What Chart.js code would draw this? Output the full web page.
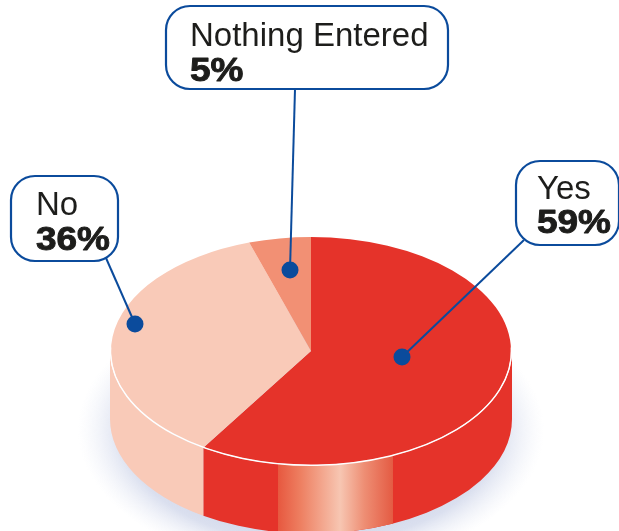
<!DOCTYPE html>
<html>
<head>
<meta charset="utf-8">
<title>Pie</title>
<script src="https://cdn.jsdelivr.net/npm/chart.js@4/dist/chart.umd.js"></script>
<style>
  html, body { margin: 0; padding: 0; background: #fff; }
  canvas { display: block; }
</style>
</head>
<body>
<canvas id="myChart" width="619" height="531"></canvas>
<script>
const categories = ['Yes', 'No', 'Nothing Entered'];
const percents = [59, 36, 5];
const sliceColors = ['#e5332a', '#f9cab8', '#f29074'];

// callout boxes and their leader lines, same order as categories
const callouts = [
    { box: [516, 161, 103, 84], text: [537, 199, 233], from: [524, 240], dot: [402, 357] },
    { box: [11, 176, 107, 85], text: [36, 215, 250], from: [106, 258], dot: [135, 324] },
    { box: [166, 6, 282, 83], text: [190, 46, 81], from: [295, 89], dot: [290, 270] },
];

const centerY = 351;
const squash = 0.57;
const depth = 68;
const blue = '#0b4b9c';

const ctx = document.getElementById('myChart');

// soft blue glow under the disc
const drawShadow = (c, x, r) => {
    c.save();
    c.translate(x, 430);
    c.scale(1, 0.6);
    const g = c.createRadialGradient(0, 0, r * 0.72, 0, 0, r * 1.16);
    g.addColorStop(0, 'rgba(203,210,231,1)');
    g.addColorStop(0.5, 'rgba(212,218,236,0.85)');
    g.addColorStop(1, 'rgba(235,238,247,0)');
    c.fillStyle = g;
    c.beginPath();
    c.arc(0, 0, r * 1.16, 0, Math.PI * 2);
    c.fill();
    c.restore();
};

const wallPath = (c, x, r, a0, a1) => {
    c.beginPath();
    c.ellipse(x, centerY, r, r * squash, 0, a0, a1);
    c.ellipse(x, centerY + depth, r, r * squash, 0, a1, a0, true);
    c.closePath();
};

// heavy percent figure, the bold face is widened and thickened a little
const drawBold = (c, label, x, y) => {
    c.save();
    c.translate(x, y);
    c.scale(1.12, 1);
    c.font = 'bold 33px "Liberation Sans"';
    c.strokeStyle = c.fillStyle;
    c.lineWidth = 0.9;
    c.lineJoin = 'round';
    c.strokeText(label, 0, 0);
    c.fillText(label, 0, 0);
    c.restore();
};

const pie3d = {
    id: 'pie3d',
    beforeDatasetsDraw(chart) {
        const c = chart.ctx;
        const arcs = chart.getDatasetMeta(0).data;
        const x = arcs[0].x;
        const r = arcs[0].outerRadius + 1;

        drawShadow(c, x, r);

        // side wall, only the front half of each slice shows
        arcs.forEach((arc, i) => {
            const a0 = Math.max(arc.startAngle, 0);
            const a1 = Math.min(arc.endAngle, Math.PI);
            if (a1 <= a0) return;
            wallPath(c, x, r, a0, a1);
            c.fillStyle = sliceColors[i];
            c.fill();
        });

        // shine on the red wall
        const first = arcs[0];
        c.save();
        wallPath(c, x, r, 0, Math.min(first.endAngle, Math.PI));
        c.clip();
        const sheen = c.createLinearGradient(278, 0, 393, 0);
        sheen.addColorStop(0, '#e7583f');
        sheen.addColorStop(0.2, '#ee8062');
        sheen.addColorStop(0.54, '#f7c6b2');
        sheen.addColorStop(0.75, '#ee8e74');
        sheen.addColorStop(1, '#e45b43');
        c.fillStyle = sheen;
        c.fillRect(278, centerY, 115, depth + 120);
        c.restore();

        // flatten the disc into an ellipse
        c.save();
        c.translate(x, centerY);
        c.scale(1, squash);
        c.translate(-x, -arcs[0].y);
    },
    afterDatasetsDraw(chart) {
        const c = chart.ctx;
        c.restore();
        const arcs = chart.getDatasetMeta(0).data;
        const x = arcs[0].x;
        const r = arcs[0].outerRadius;

        // white rim along the front edge
        c.strokeStyle = '#fff';
        c.lineWidth = 1.4;
        c.beginPath();
        c.ellipse(x, centerY, r + 0.5, (r + 0.5) * squash, 0, -0.03, Math.PI + 0.03);
        c.stroke();

        callouts.forEach((o, i) => {
            c.strokeStyle = blue;
            c.lineWidth = 2;
            c.beginPath();
            c.moveTo(o.from[0], o.from[1]);
            c.lineTo(o.dot[0], o.dot[1]);
            c.stroke();

            c.fillStyle = blue;
            c.beginPath();
            c.arc(o.dot[0], o.dot[1], 8.5, 0, Math.PI * 2);
            c.fill();

            c.fillStyle = '#fff';
            c.lineWidth = 2.2;
            c.beginPath();
            c.roundRect(o.box[0], o.box[1], o.box[2], o.box[3], 24);
            c.fill();
            c.stroke();

            c.fillStyle = '#1d1d1b';
            c.textBaseline = 'alphabetic';
            c.font = '33px "Liberation Sans"';
            c.fillText(categories[i], o.text[0], o.text[1]);
            drawBold(c, percents[i] + '%', o.text[0], o.text[2]);
        });
    },
};

const config = {
    type: 'pie',
    data: {
        labels: categories,
        datasets: [{
            data: percents,
            backgroundColor: sliceColors,
            borderWidth: 0,
            hoverOffset: 0,
        }],
    },
    options: {
        responsive: false,
        animation: false,
        events: [],
        layout: { padding: { left: 111, right: 108, top: 65, bottom: 66 } },
        plugins: {
            legend: { display: false },
            tooltip: { enabled: false },
        },
    },
    plugins: [pie3d],
};

const chart1 = new Chart(ctx, config);
</script>
</body>
</html>
